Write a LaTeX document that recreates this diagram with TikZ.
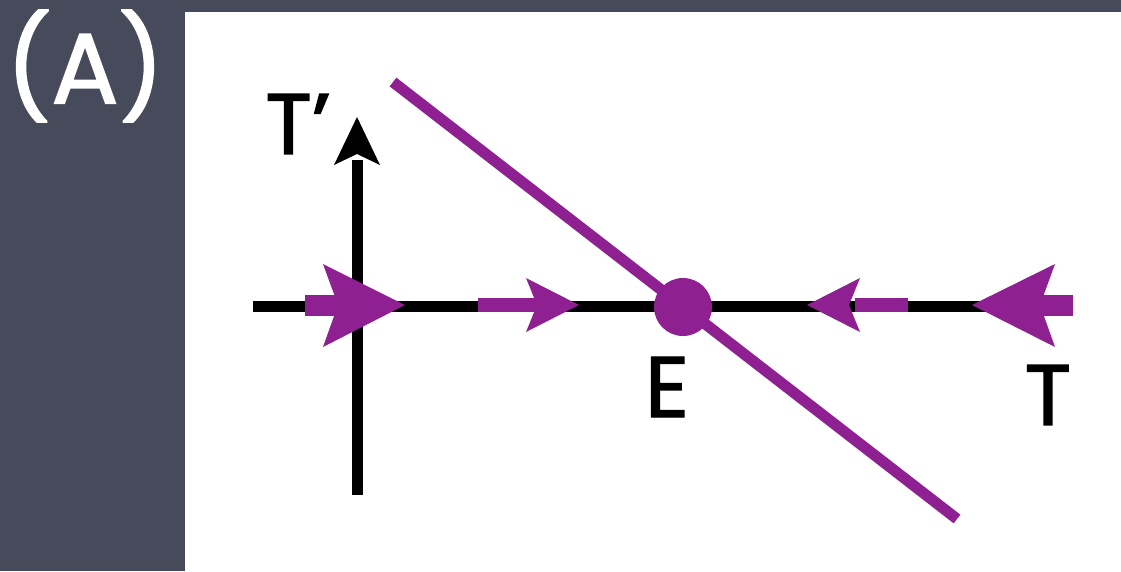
\documentclass[tikz,border=0pt]{standalone}
\usepackage{fontspec}
\setmainfont{Poppins}
\newfontfamily\lblfont[FakeBold=1.6]{Poppins}
\definecolor{panelbg}{HTML}{474A5A}
\definecolor{flow}{HTML}{8F2091}
\tikzset{
  axisline/.style={line width=11pt, draw=black},
  nullcline/.style={line width=11pt, draw=flow},
  flowmark/.style={fill=flow, draw=none},
  lbl/.style={inner sep=0pt, font=\lblfont\fontsize{86}{86}\selectfont, text=black},
}
\begin{document}
\begin{tikzpicture}[x=1pt,y=-1pt]
  % background
  \fill[panelbg] (0,0) rectangle (1121,571);
  \fill[white] (185,12) rectangle (1121,571);
  \useasboundingbox (0,0) rectangle (1121,571);
  % panel label
  \node[inner sep=0pt, text=white, font=\lblfont\fontsize{100}{100}\selectfont] (panel) at (85,66) {(A)};
  % axes
  \coordinate (xstart) at (253,306);
  \coordinate (xend) at (1073,306);
  \coordinate (ystart) at (357,495);
  \coordinate (ytop) at (357,160);
  \draw[axisline] (xstart) -- (xend);
  \draw[axisline] (ystart) -- (ytop);
  \fill[black] (357,117) -- (380,165) -- (357,154) -- (334,165) -- cycle;
  % nullcline
  \coordinate (ncA) at (393,82);
  \coordinate (ncB) at (957,519);
  \draw[nullcline] (ncA) -- (ncB);
  % flow arrows
  \fill[flowmark] (305,295) rectangle (345,316);
  \fill[flowmark] (405,305) -- (323,264) -- (338,305) -- (323,347) -- cycle;
  \fill[flowmark] (478,298) rectangle (540,312);
  \fill[flowmark] (579,305) -- (526,278) -- (537,305) -- (526,332) -- cycle;
  \fill[flowmark] (855,298) rectangle (908,312);
  \fill[flowmark] (807,305) -- (860,278) -- (849,305) -- (860,332) -- cycle;
  \fill[flowmark] (1035,295) rectangle (1073,316);
  \fill[flowmark] (972,305) -- (1055,264) -- (1040,305) -- (1055,347) -- cycle;
  % equilibrium
  \node[circle, fill=flow, minimum size=58pt, inner sep=0pt] (E) at (683,307) {};
  % labels
  \node[lbl] (Tp) at (298,124) {T’};
  \node[lbl] (Elbl) at (667,387) {E};
  \node[lbl] (Tlbl) at (1048,395) {T};
\end{tikzpicture}
\end{document}
